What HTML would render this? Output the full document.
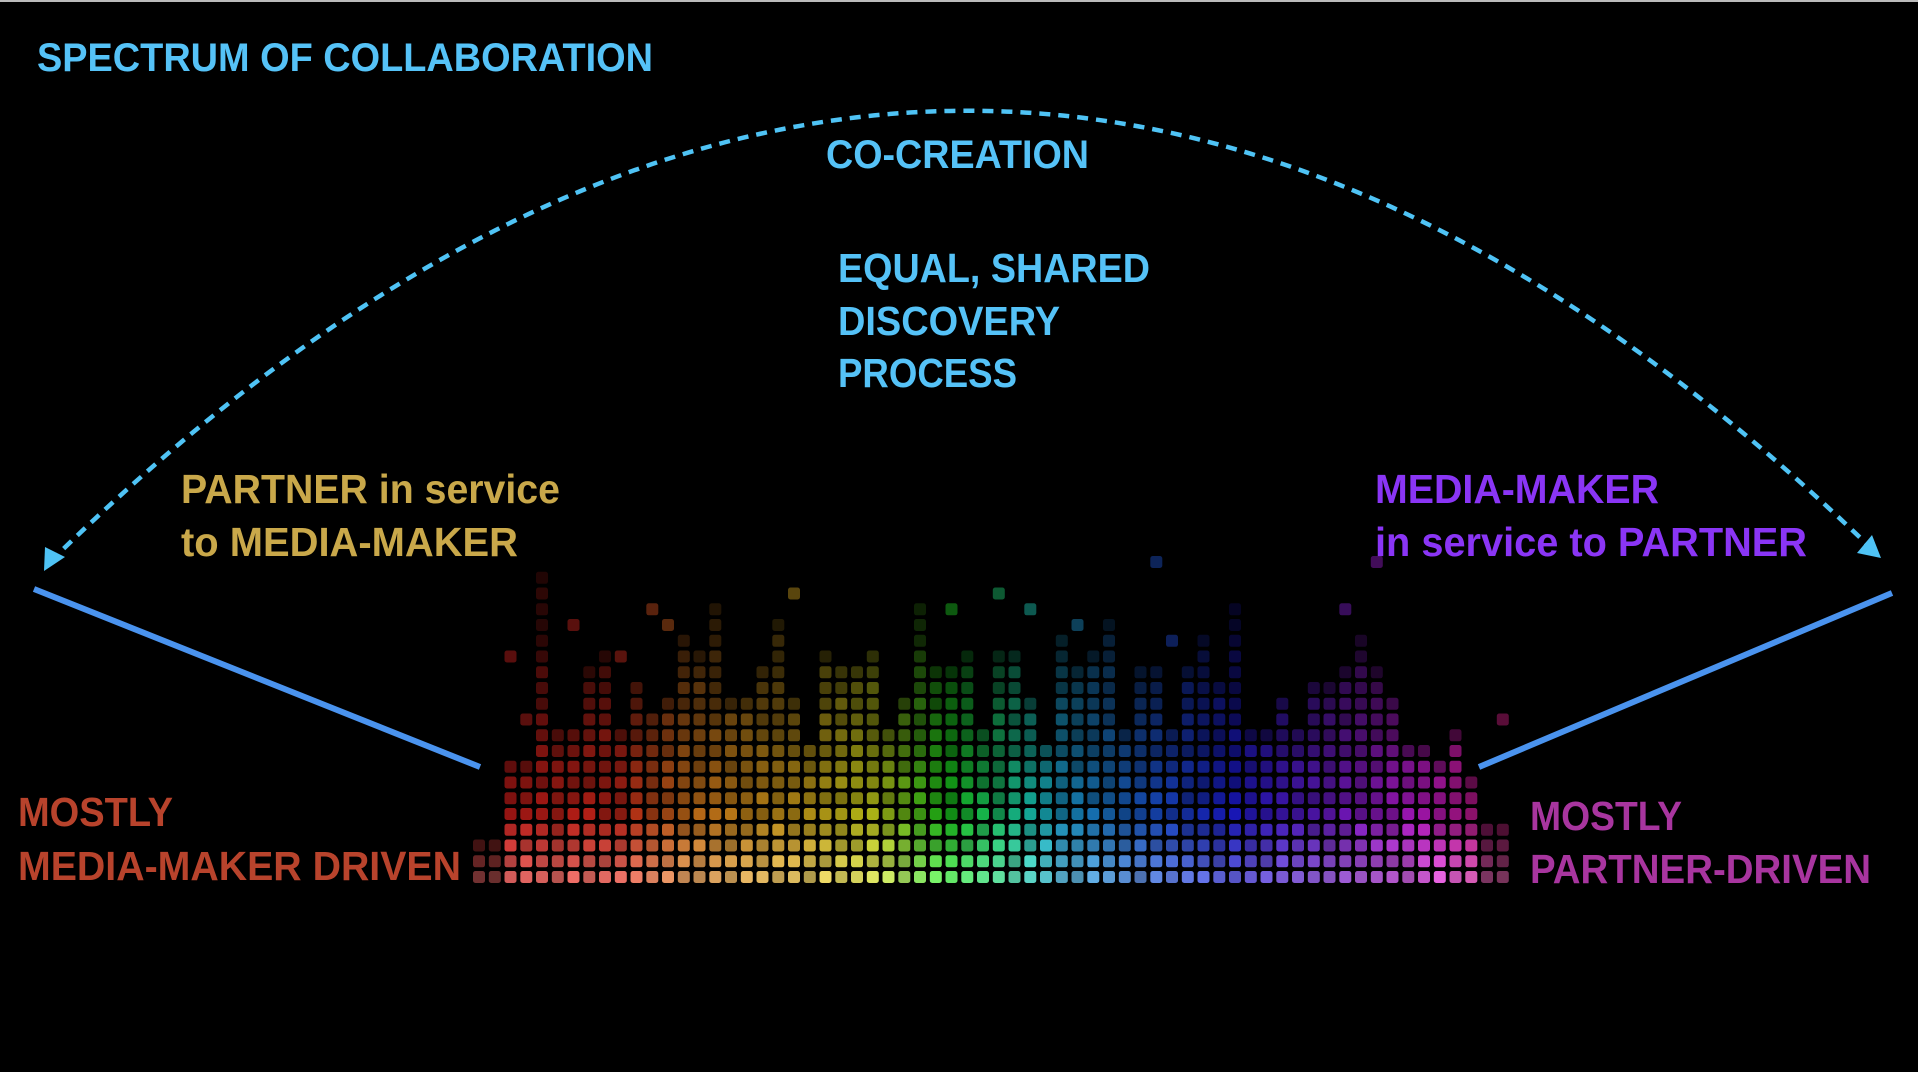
<!DOCTYPE html>
<html><head><meta charset="utf-8"><style>
html,body{margin:0;padding:0;background:#000;width:1918px;height:1072px;overflow:hidden}
svg{display:block}
text{font-family:"Liberation Sans",sans-serif;font-weight:bold}
</style></head><body>
<svg id="s" width="1918" height="1072" viewBox="0 0 1918 1072" xmlns="http://www.w3.org/2000/svg">
<rect width="1918" height="1072" fill="#000"/>
<line x1="0" y1="1" x2="1918" y2="1" stroke="#bbb" stroke-width="2"/>
<g id="eq"></g>
<path d="M 50 562 Q 962 -335 1874 551" fill="none" stroke="#4fc3f5" stroke-width="4.5" stroke-dasharray="11 8"/>
<polygon points="44,571 45,547 65,557" fill="#4fc3f5"/>
<polygon points="1881,558 1857,553 1872,535" fill="#4fc3f5"/>
<line x1="34" y1="589" x2="480" y2="767" stroke="#4a93ee" stroke-width="6"/>
<line x1="1479" y1="767" x2="1892" y2="593" stroke="#4a93ee" stroke-width="6"/>
<g fill="#55c2f7">
<text x="37" y="71" font-size="40" textLength="616" lengthAdjust="spacingAndGlyphs">SPECTRUM OF COLLABORATION</text>
<text x="826" y="168" font-size="40" textLength="263" lengthAdjust="spacingAndGlyphs">CO-CREATION</text>
<text x="838" y="282" font-size="41" textLength="312" lengthAdjust="spacingAndGlyphs">EQUAL, SHARED</text>
<text x="838" y="335" font-size="41" textLength="222" lengthAdjust="spacingAndGlyphs">DISCOVERY</text>
<text x="838" y="387" font-size="41" textLength="179" lengthAdjust="spacingAndGlyphs">PROCESS</text>
</g>
<g fill="#c9a84a">
<text x="181" y="503" font-size="41" textLength="379" lengthAdjust="spacingAndGlyphs">PARTNER in service</text>
<text x="181" y="556" font-size="41" textLength="337" lengthAdjust="spacingAndGlyphs">to MEDIA-MAKER</text>
</g>
<g fill="#8a35f5">
<text x="1375" y="503" font-size="41" textLength="284" lengthAdjust="spacingAndGlyphs">MEDIA-MAKER</text>
<text x="1375" y="556" font-size="41" textLength="432" lengthAdjust="spacingAndGlyphs">in service to PARTNER</text>
</g>
<g fill="#b8432c">
<text x="18" y="826" font-size="41" textLength="155" lengthAdjust="spacingAndGlyphs">MOSTLY</text>
<text x="18" y="880" font-size="41" textLength="443" lengthAdjust="spacingAndGlyphs">MEDIA-MAKER DRIVEN</text>
</g>
<g fill="#a8359f">
<text x="1530" y="830" font-size="41" textLength="152" lengthAdjust="spacingAndGlyphs">MOSTLY</text>
<text x="1530" y="883" font-size="41" textLength="341" lengthAdjust="spacingAndGlyphs">PARTNER-DRIVEN</text>
</g>
</svg>
<script>
(function(){
var g=document.getElementById('eq');
var seed=987;function r(){seed=(seed*1103515245+12345)%2147483648;return seed/2147483648;}
var x0=479,pitch=15.75,n=66,yb=877,cs=12;
var stops=[[479,0],[620,5],[690,30],[800,45],[880,65],[930,110],[1000,150],[1060,195],[1130,215],[1230,240],[1330,268],[1420,295],[1480,320],[1520,330]];
function hueAt(x){for(var j=0;j<stops.length-1;j++){if(x<=stops[j+1][0]){var a=stops[j],b=stops[j+1];return a[1]+(b[1]-a[1])*(x-a[0])/(b[0]-a[0]);}}return 330;}
var out='';
for(var i=0;i<n;i++){
 var cx=x0+i*pitch;
 var hue=hueAt(cx);
 var h;
 if(i<2)h=3+Math.round(r()*2);
 else if(i<4)h=7+Math.round(r()*3);
 else if(i>n-3)h=3+Math.round(r()*2);
 else if(i>n-6)h=6+Math.round(r()*4);
 else h=9+Math.round(r()*6)+(r()<0.2?Math.round(2+r()*4):0);
 if(h>20)h=20;
 var edge=(i<2||i>n-3)?0.55:1;
 for(var k=0;k<h;k++){
  var op=(k<6?1.0-0.06*k:Math.max(0.2,0.64-0.045*(k-6)))*edge*(0.72+0.28*r());
  if(k==h-1)op*=0.75;
  if(op<0.14)op=0.14;
  var l=52+(k<4?(4-k)*4:0);
  var cy=yb-k*pitch;
  out+='<rect x="'+(cx-cs/2).toFixed(1)+'" y="'+(cy-cs/2).toFixed(1)+'" width="'+cs+'" height="'+cs+'" rx="2.5" fill="hsl('+hue.toFixed(0)+',85%,'+l+'%)" opacity="'+op.toFixed(2)+'"/>';
 }
 if(r()<0.3){
  var k2=h+2+Math.floor(r()*5);
  if(k2<22){var cy2=yb-k2*pitch;
  out+='<rect x="'+(cx-cs/2).toFixed(1)+'" y="'+(cy2-cs/2).toFixed(1)+'" width="'+cs+'" height="'+cs+'" rx="2.5" fill="hsl('+hue.toFixed(0)+',75%,50%)" opacity="0.4"/>';}
 }
}
g.innerHTML=out;
})();
</script>
</body></html>
